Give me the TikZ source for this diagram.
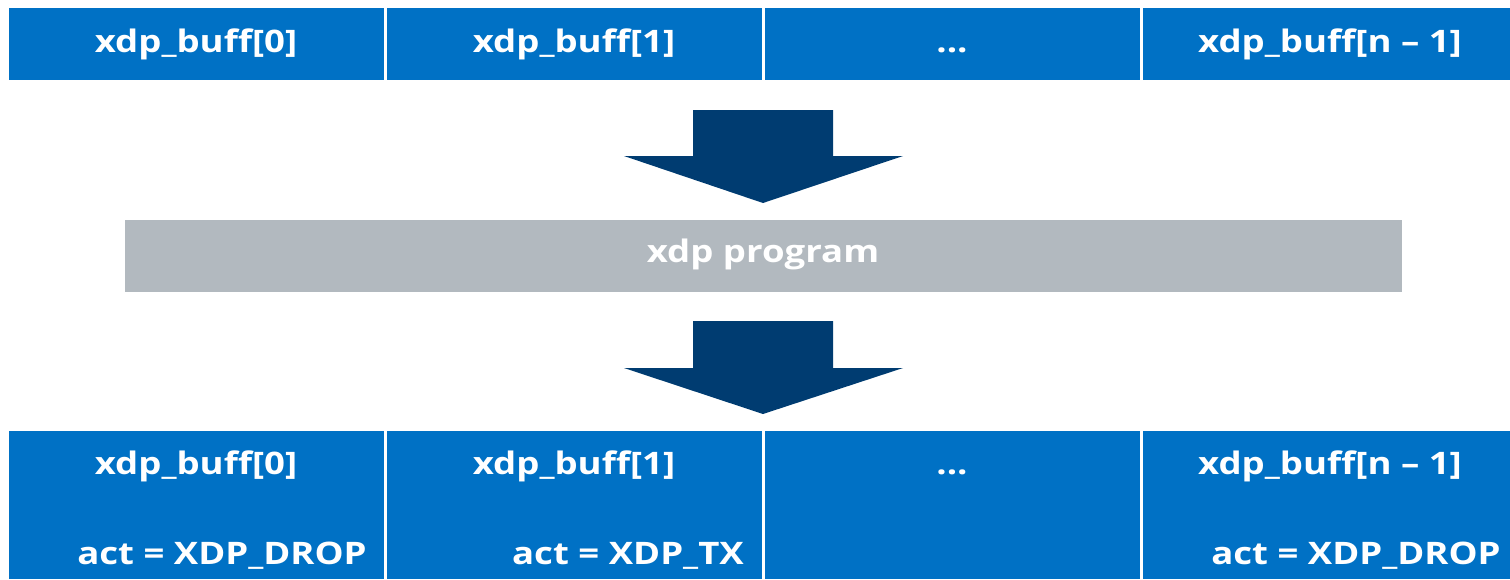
\documentclass[tikz,border=0pt]{standalone}
\usepackage{fontspec}
\setmainfont{Open Sans}
\newfontfamily\lblfont[FakeStretch=1.18]{Open Sans}
\definecolor{cellblue}{HTML}{0071C5}
\definecolor{arrowblue}{HTML}{003C71}
\definecolor{proggrey}{HTML}{B2B9BF}
\begin{document}
\begin{tikzpicture}[x=1pt,y=-1pt,
  cell/.style={fill=cellblue, draw=none, anchor=north west, inner sep=0pt,
    minimum width=375pt},
  lbl/.style={text=white, font=\lblfont\bfseries\fontsize{31}{36}\selectfont,
    anchor=base, inner sep=0pt},
  blockarrow/.style={fill=arrowblue, draw=none}]
\useasboundingbox (0,0) rectangle (1510,579);

% input buffers
\node[cell, minimum height=72pt] (t0) at (9,8) {};
\node[cell, minimum height=72pt] (t1) at (387,8) {};
\node[cell, minimum height=72pt] (t2) at (765,8) {};
\node[cell, minimum height=72pt, minimum width=367pt] (t3) at (1143,8) {};
\node[lbl] (t0l) at (196,52) {xdp\_buff[0]};
\node[lbl] (t1l) at (574,52) {xdp\_buff[1]};
\node[lbl] (t2l) at (952,52) {...};
\node[lbl] (t3l) at (1330,52) {xdp\_buff[n – 1]};

% program
\node[fill=proggrey, anchor=north west, inner sep=0pt, minimum width=1277pt,
  minimum height=72pt] (prog) at (125,220) {};
\node[lbl] (progl) at (763,262) {xdp program};

% block arrows
\path[blockarrow] (693,110) -- (833,110) -- (833,156) -- (903,156) -- (763,203)
  -- (624,156) -- (693,156) -- cycle;
\path[blockarrow] (693,321) -- (833,321) -- (833,368) -- (903,368) -- (763,414)
  -- (624,368) -- (693,368) -- cycle;

% output buffers with verdicts
\node[cell, minimum height=148pt] (b0) at (9,431) {};
\node[cell, minimum height=148pt] (b1) at (387,431) {};
\node[cell, minimum height=148pt] (b2) at (765,431) {};
\node[cell, minimum height=148pt, minimum width=367pt] (b3) at (1143,431) {};
\node[lbl] (b0l) at (196,474) {xdp\_buff[0]};
\node[lbl] (b1l) at (574,474) {xdp\_buff[1]};
\node[lbl] (b2l) at (952,474) {...};
\node[lbl] (b3l) at (1330,474) {xdp\_buff[n – 1]};
\node[lbl] (b0a) at (222,564) {act = XDP\_DROP};
\node[lbl] (b1a) at (628,564) {act = XDP\_TX};
\node[lbl] (b3a) at (1356,564) {act = XDP\_DROP};
\end{tikzpicture}
\end{document}
